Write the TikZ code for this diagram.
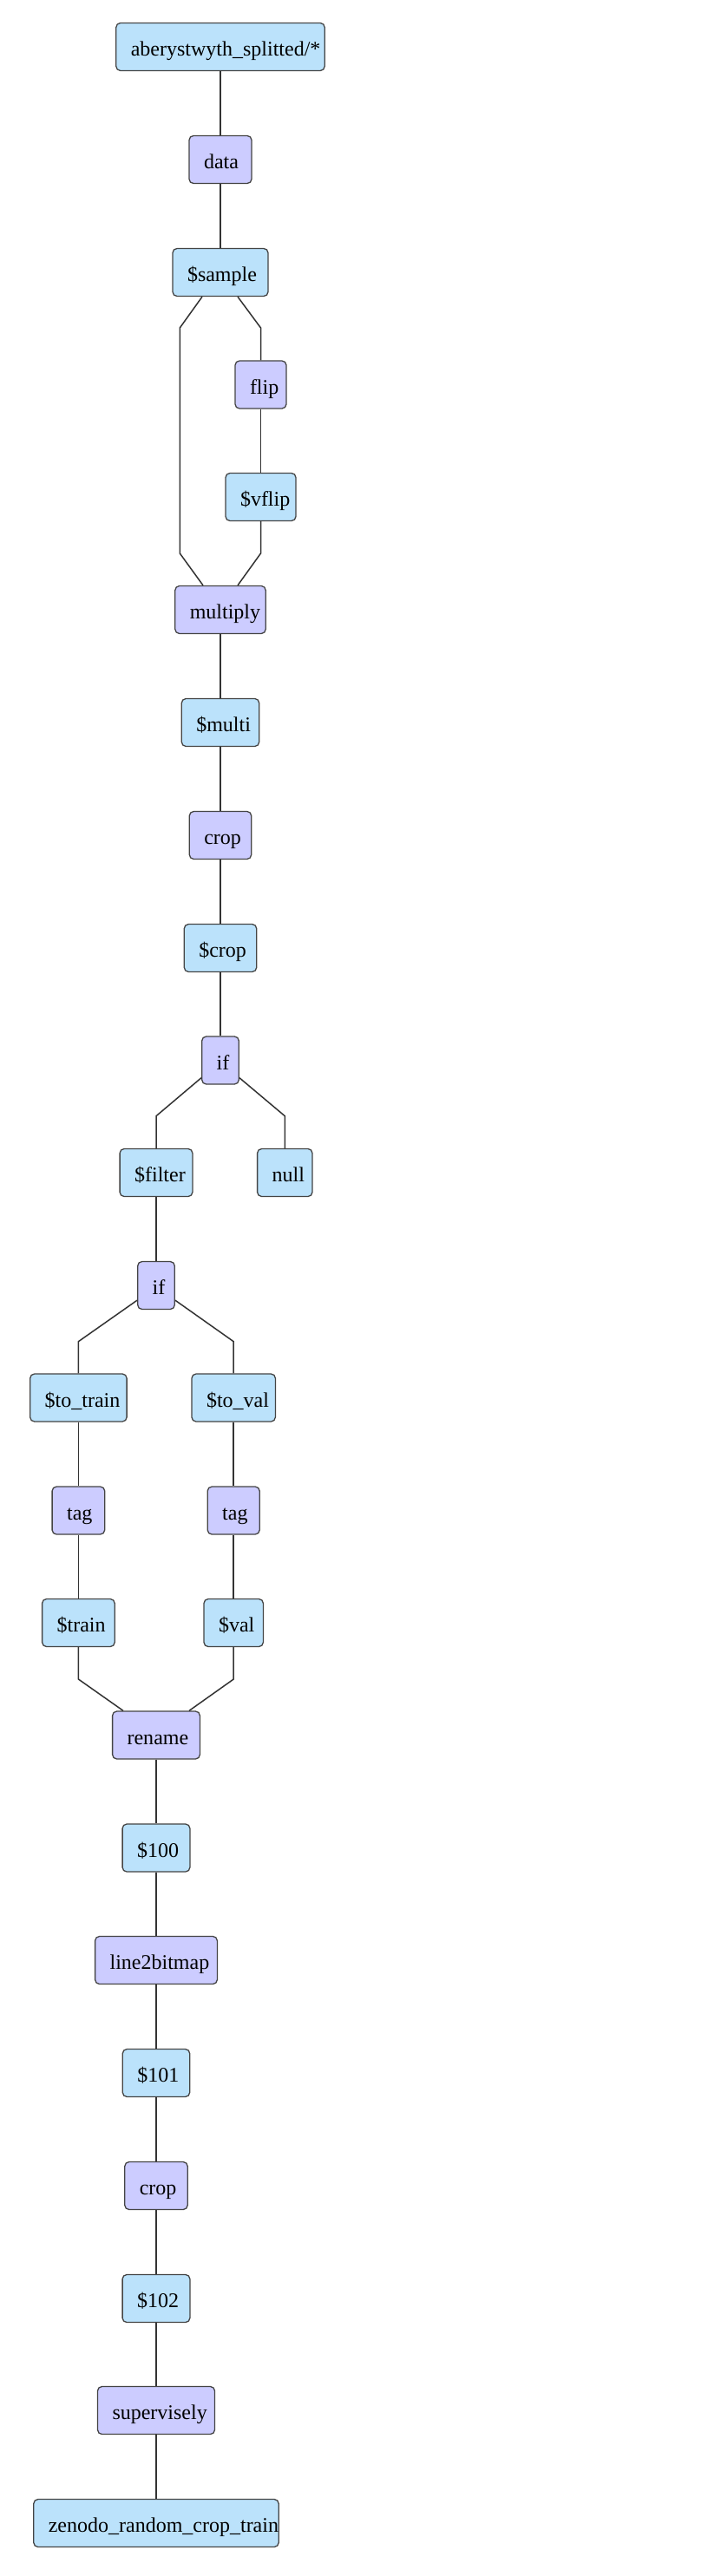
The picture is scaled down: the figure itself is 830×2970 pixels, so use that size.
\documentclass[tikz,border=0pt]{standalone}
\usepackage{fontspec}
\setmainfont{Liberation Serif}
\usetikzlibrary{calc}
\definecolor{varblue}{HTML}{BBE2FB}
\definecolor{oplilac}{HTML}{CCCCFF}
\definecolor{boxline}{HTML}{444444}
\definecolor{edgegray}{HTML}{333333}
\hyphenpenalty=10000

\begin{document}
\begin{tikzpicture}[x=0.5pt, y=-0.5pt,
    box/.style={draw=boxline, line width=0.65pt, rounded corners=2.5pt,
      minimum height=27.5pt, inner xsep=8.5pt, inner ysep=0pt,
      text height=10.5pt, text depth=0pt, align=left,
      font=\fontsize{12}{14}\selectfont},
    var/.style={box, fill=varblue},
    op/.style={box, fill=oplilac},
    link/.style={draw=edgegray, line width=0.75pt}]
    \useasboundingbox (0,0) rectangle (830,2970);

    % upper part
    \node[var, text width=103.2pt] (src) at (254,54) {aberystwyth\_splitted/*};
    \node[op, text width=19pt] (data) at (254,184) {data};
    \node[var, text width=38pt] (sample) at (254,314) {\$sample};
    \node[op, text width=12.5pt] (flip) at (300.5,443.5) {flip};
    \node[var, text width=23.5pt] (vflip) at (300.5,573) {\$vflip};
    \node[op, text width=35.2pt] (multiply) at (254,703) {multiply};
    \node[var, text width=27.7pt] (multi) at (254,833) {\$multi};
    \node[op, text width=18.7pt] (crop) at (254,963) {crop};
    \node[var, text width=24.7pt] (cropv) at (254,1093) {\$crop};
    \node[op, text width=4.3pt] (if) at (254,1222.5) {if};
    \node[var, text width=24.9pt] (filter) at (180,1352) {\$filter};
    \node[var, text width=14.7pt] (null) at (328.3,1352) {null};
    \node[op, text width=4.3pt] (iff) at (180,1482) {if};

    % train / val branches
    \node[var, text width=38.7pt] (totrain) at (90.4,1611.5) {\$to\_train};
    \node[var, text width=31.2pt] (toval) at (269.2,1611.5) {\$to\_val};
    \node[op, text width=13.3pt] (tagt) at (90.4,1741.5) {tag};
    \node[op, text width=13pt] (tagv) at (269.2,1741.5) {tag};
    \node[var, text width=24.8pt] (train) at (90.4,1871) {\$train};
    \node[var, text width=17.2pt] (val) at (269.2,1871) {\$val};

    % lower part
    \node[op, text width=33.4pt] (rename) at (180,2000.5) {rename};
    \node[var, text width=21.9pt] (n100) at (180,2130.5) {\$100};
    \node[op, text width=53.4pt] (lbm) at (180,2260) {line2bitmap};
    \node[var, text width=21.7pt] (n101) at (180,2390) {\$101};
    \node[op, text width=19.2pt] (cropb) at (180,2520) {crop};
    \node[var, text width=21.9pt] (n102) at (180,2650) {\$102};
    \node[op, text width=50.5pt] (supv) at (180,2779) {supervisely};
    \node[var, text width=124.2pt] (zen) at (180,2909) {zenodo\_random\_crop\_train};

    % bends of the split edges
    \coordinate (sampleL) at (207.3,378);
    \coordinate (multL) at (207.3,638);
    \coordinate (sampleR) at (300.5,378);
    \coordinate (multR) at (300.5,638);
    \coordinate (ifL) at (180,1286.7);
    \coordinate (ifR) at (328.3,1286.7);
    \coordinate (iffL) at (90.4,1546.7);
    \coordinate (iffR) at (269.2,1546.7);
    \coordinate (renL) at (90.4,1936);
    \coordinate (renR) at (269.2,1936);

    \foreach \a/\b in {src/data, data/sample, flip/vflip, multiply/multi,
        multi/crop, crop/cropv, cropv/if, filter/iff, totrain/tagt,
        tagt/train, toval/tagv, tagv/val, rename/n100, n100/lbm,
        lbm/n101, n101/cropb, cropb/n102, n102/supv, supv/zen}
        \draw[link] (\a) -- (\b);

    \draw[link] ([xshift=-10.5pt]sample.south) -- (sampleL) -- (multL) -- ([xshift=-10pt]multiply.north);
    \draw[link] ([xshift=10pt]sample.south) -- (sampleR) -- (flip);
    \draw[link] (vflip) -- (multR) -- ([xshift=10pt]multiply.north);
    \draw[link] ([yshift=4pt]if.south west) -- (ifL) -- (filter);
    \draw[link] ([yshift=4pt]if.south east) -- (ifR) -- (null);
    \draw[link] ([yshift=5.5pt]iff.south west) -- (iffL) -- (totrain);
    \draw[link] ([yshift=5.5pt]iff.south east) -- (iffR) -- (toval);
    \draw[link] (train) -- (renL) -- ([xshift=-19pt]rename.north);
    \draw[link] (val) -- (renR) -- ([xshift=19pt]rename.north);
\end{tikzpicture}
\end{document}
